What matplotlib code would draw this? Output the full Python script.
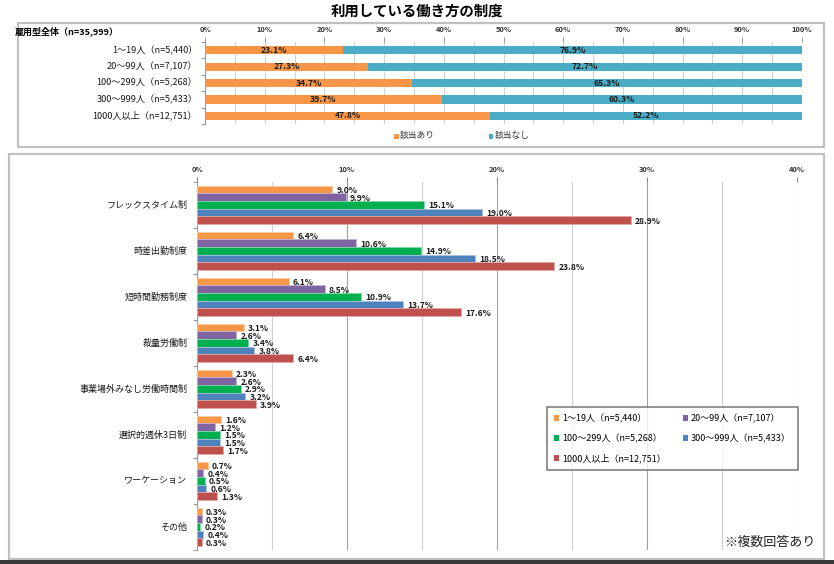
import matplotlib
matplotlib.use("Agg")
import matplotlib.pyplot as plt
from matplotlib.patches import Patch, Rectangle
import numpy as np

plt.rcParams['font.family'] = ['Noto Sans CJK JP', 'DejaVu Sans']

# ---------------- data ----------------
title = "利用している働き方の制度"
overall_label = "雇用型全体（n=35,999）"
size_groups = ["1～19人（n=5,440）", "20～99人（n=7,107）", "100～299人（n=5,268）",
               "300～999人（n=5,433）", "1000人以上（n=12,751）"]
applicable = [23.1, 27.3, 34.7, 39.7, 47.8]
not_applicable = [76.9, 72.7, 65.3, 60.3, 52.2]
top_legend = ["該当あり", "該当なし"]

systems = ["フレックスタイム制", "時差出勤制度", "短時間勤務制度", "裁量労働制",
           "事業場外みなし労働時間制", "選択的週休3日制", "ワーケーション", "その他"]
vals_1_19 = [9.0, 6.4, 6.1, 3.1, 2.3, 1.6, 0.7, 0.3]
vals_20_99 = [9.9, 10.6, 8.5, 2.6, 2.6, 1.2, 0.4, 0.3]
vals_100_299 = [15.1, 14.9, 10.9, 3.4, 2.9, 1.5, 0.5, 0.2]
vals_300_999 = [19.0, 18.5, 13.7, 3.8, 3.2, 1.5, 0.6, 0.4]
vals_1000 = [28.9, 23.8, 17.6, 6.4, 3.9, 1.7, 1.3, 0.3]
note = "※複数回答あり"

series = [vals_1_19, vals_20_99, vals_100_299, vals_300_999, vals_1000]
colors = ["#F79646", "#8064A2", "#00B050", "#4F81BD", "#C0504D"]
edge_colors = ["#FBC9A2", "#C0B2D2", "#80D8A8", "#A7C0DE", "#E0A8A6"]
c_yes, c_no = "#F79646", "#4BACC6"

W, H = 834, 564
fig = plt.figure(figsize=(W / 100, H / 100), dpi=100)
fig.patch.set_facecolor("white")

def fbox(x0, y0, x1, y1):
    return [x0 / W, 1 - y1 / H, (x1 - x0) / W, (y1 - y0) / H]

# panel frames
fig.patches.append(Rectangle((18 / W, 1 - 147 / H), (824 - 18) / W, (147 - 23) / H,
                             transform=fig.transFigure, fill=False, edgecolor="#c0c0c0", lw=1.6))
fig.patches.append(Rectangle((9 / W, 1 - 559 / H), (824 - 9) / W, (559 - 154) / H,
                             transform=fig.transFigure, fill=False, edgecolor="#c0c0c0", lw=1.6))
fig.patches.append(Rectangle((0, 0), 1, 4 / H, transform=fig.transFigure,
                             facecolor="#3a3a3a", edgecolor="none"))

fig.text(0.5, 1 - 12 / H, title, ha="center", va="center", fontsize=10.4, fontweight="bold")

# ---------------- top chart ----------------
ax1 = fig.add_axes(fbox(205, 42, 802, 124))
ypos = np.arange(len(size_groups))
ax1.barh(ypos, applicable, height=0.5, color=c_yes, zorder=3)
ax1.barh(ypos, not_applicable, left=applicable, height=0.5, color=c_no, zorder=3)
for i in range(len(size_groups)):
    ax1.text(applicable[i] / 2, i, f"{applicable[i]:.1f}%", ha="center", va="center",
             fontsize=6.2, fontweight="bold", color="#1a1a1a", zorder=4)
    ax1.text(applicable[i] + not_applicable[i] / 2, i, f"{not_applicable[i]:.1f}%",
             ha="center", va="center", fontsize=6.2, fontweight="bold", color="#1a1a1a", zorder=4)
ax1.set_xlim(0, 100)
ax1.set_ylim(len(size_groups) - 0.5, -0.5)
ax1.set_xticks(np.arange(0, 101, 10))
ax1.set_xticklabels([f"{v}%" for v in range(0, 101, 10)], fontsize=5.4, fontweight="bold", color="#333333")
ax1.set_xticks(np.arange(0, 101, 5), minor=True)
ax1.xaxis.tick_top()
ax1.tick_params(axis="x", which="major", length=3.5, color="#999999", pad=3)
ax1.tick_params(axis="x", which="minor", length=0)
ax1.grid(axis="x", which="both", color="#d0d0d0", lw=0.8, zorder=0)
ax1.set_yticks(np.arange(-0.5, len(size_groups), 1))
ax1.set_yticklabels([])
ax1.tick_params(axis="y", length=3, color="#999999")
for i, lab in enumerate(size_groups):
    ax1.text(-1.3, i, lab, ha="right", va="center", fontsize=6.6, color="#1a1a1a",
             transform=ax1.transData)
for s in ["top", "right", "bottom"]:
    ax1.spines[s].set_visible(False)
ax1.spines["left"].set_color("#999999")
fig.text(15 / W, 1 - 31 / H, overall_label, ha="left", va="center", fontsize=6.5, fontweight="bold")

# top legend
for x, lab, c in [(396, top_legend[0], c_yes), (491, top_legend[1], c_no)]:
    fig.patches.append(Rectangle((x / W - 2.5 / W, 1 - 138.5 / H), 5 / W, 5 / H,
                                 transform=fig.transFigure, facecolor=c, edgecolor="none"))
    fig.text((x + 4) / W, 1 - 135.5 / H, lab, ha="left", va="center", fontsize=6.3, color="#333333")

# ---------------- bottom chart ----------------
ax2 = fig.add_axes(fbox(197, 182, 797, 550))
n = len(systems)
bh = 7.7 / 46
pad = 3.6 / 46
for j, (vals, c, ec) in enumerate(zip(series, colors, edge_colors)):
    yc = np.arange(n) + pad + (j + 0.5) * bh
    ax2.barh(yc, vals, height=bh, color=c, edgecolor=ec, lw=0.6, zorder=3)
    for y, v in zip(yc, vals):
        ax2.text(v + 0.3, y + 0.02, f"{v:.1f}%", ha="left", va="center", fontsize=6.1,
                 fontweight="bold", color="#1a1a1a", zorder=4)
ax2.set_xlim(0, 40)
ax2.set_ylim(n, 0)
ax2.set_xticks(np.arange(0, 41, 10))
ax2.set_xticklabels([f"{v}%" for v in range(0, 41, 10)], fontsize=5.4, fontweight="bold", color="#333333")
ax2.set_xticks(np.arange(0, 41, 5), minor=True)
ax2.xaxis.tick_top()
ax2.tick_params(axis="x", which="major", length=3.5, color="#888888", pad=3)
ax2.tick_params(axis="x", which="minor", length=0)
ax2.grid(axis="x", which="major", color="#a0a0a0", lw=0.8, zorder=0)
ax2.grid(axis="x", which="minor", color="#cfcfcf", lw=0.8, zorder=0)
ax2.set_yticks(np.arange(0, n + 1, 1))
ax2.set_yticklabels([])
ax2.tick_params(axis="y", length=3, color="#999999")
for i, lab in enumerate(systems):
    ax2.text(-0.65, i + 0.5, lab, ha="right", va="center", fontsize=6.5, color="#1a1a1a")
for s in ["top", "right", "bottom"]:
    ax2.spines[s].set_visible(False)
ax2.spines["left"].set_color("#999999")

handles = [Patch(facecolor=c, edgecolor="none") for c in colors]
order = [0, 2, 4, 1, 3]
leg = fig.legend([handles[k] for k in order], [size_groups[k] for k in order],
                 loc="upper left", bbox_to_anchor=(547 / W, 1 - 407 / H), ncol=2,
                 fontsize=6.5, frameon=True, fancybox=False, handlelength=0.6, handleheight=0.6,
                 handletextpad=0.3, columnspacing=1.9, labelspacing=1.15, borderpad=0.75,
                 borderaxespad=0)
leg.get_frame().set_edgecolor("#555555")
leg.get_frame().set_linewidth(1.1)

fig.text(770 / W, 1 - 542 / H, note, ha="center", va="center", fontsize=9.4, color="#222222")

fig.savefig("out.png", dpi=100)
